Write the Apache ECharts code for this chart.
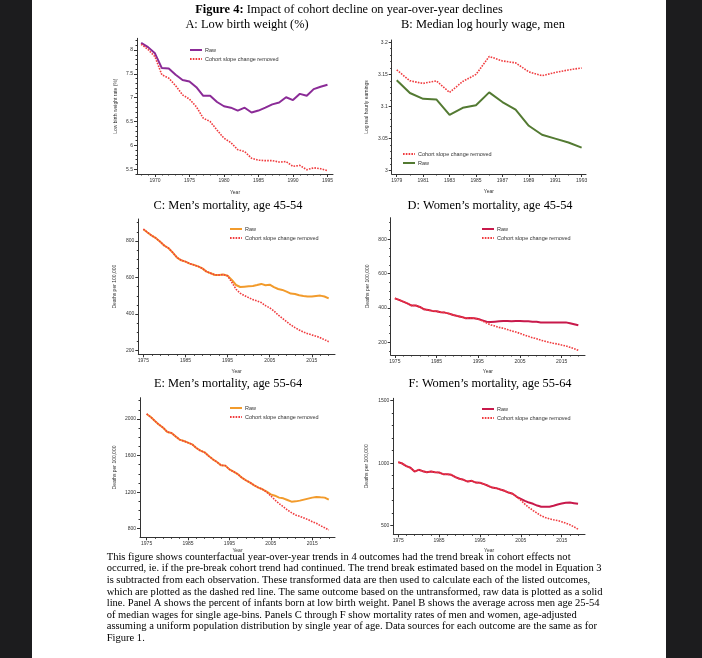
<!DOCTYPE html>
<html>
<head>
<meta charset="utf-8">
<script src="https://cdn.jsdelivr.net/npm/echarts@6/dist/echarts.min.js"></script>
<style>
html, body { margin: 0; padding: 0; background: #fff; }
#chart { width: 702px; height: 658px; }
</style>
</head>
<body>
<div id="chart"></div>
<script>
// panel A: low birth weight (%)
const yearsA = [1968, 1969, 1970, 1971, 1972, 1973, 1974, 1975, 1976, 1977, 1978, 1979, 1980, 1981,
  1982, 1983, 1984, 1985, 1986, 1987, 1988, 1989, 1990, 1991, 1992, 1993, 1994, 1995]
const rawA = [8.15, 8.06, 7.93, 7.62, 7.61, 7.48, 7.37, 7.34, 7.22, 7.04, 7.04, 6.91, 6.82, 6.79,
  6.73, 6.79, 6.69, 6.73, 6.79, 6.86, 6.90, 7.01, 6.95, 7.08, 7.04, 7.18, 7.23, 7.27]
const cohortA = [8.12, 8.01, 7.86, 7.48, 7.41, 7.25, 7.06, 6.97, 6.81, 6.57, 6.50, 6.32, 6.15, 6.06,
  5.91, 5.87, 5.73, 5.69, 5.68, 5.68, 5.65, 5.66, 5.56, 5.58, 5.49, 5.53, 5.51, 5.47]

// panel B: median log hourly wage, men
const yearsB = [1979, 1980, 1981, 1982, 1983, 1984, 1985, 1986, 1987, 1988, 1989, 1990, 1991, 1992, 1993]
const rawB = [3.141, 3.121, 3.112, 3.111, 3.087, 3.098, 3.102, 3.122, 3.107, 3.095, 3.070, 3.056, 3.050, 3.044, 3.036]
const cohortB = [3.157, 3.140, 3.136, 3.140, 3.122, 3.139, 3.150, 3.178, 3.171, 3.168, 3.154, 3.148, 3.153, 3.157, 3.160]

// panels C-F: mortality, deaths per 100,000
const yearsMort = [1975, 1976, 1977, 1978, 1979, 1980, 1981, 1982, 1983, 1984, 1985, 1986, 1987, 1988, 1989,
  1990, 1991, 1992, 1993, 1994, 1995, 1996, 1997, 1998, 1999, 2000, 2001, 2002, 2003, 2004,
  2005, 2006, 2007, 2008, 2009, 2010, 2011, 2012, 2013, 2014, 2015, 2016, 2017, 2018, 2019]
const rawC = [864, 846, 829, 815, 796, 774, 760, 736, 709, 694, 687, 676, 669, 661, 650,
  632, 623, 614, 614, 616, 610, 587, 559, 548, 550, 552, 554, 559, 565, 558,
  561, 547, 537, 532, 523, 512, 510, 503, 499, 496, 496, 499, 501, 496, 486]
const cohortC = [864, 846, 829, 815, 796, 774, 760, 736, 709, 694, 687, 676, 669, 661, 650,
  632, 623, 614, 614, 616, 609, 574, 536, 514, 501, 490, 479, 472, 463, 446,
  434, 417, 395, 377, 359, 341, 326, 313, 302, 293, 286, 279, 271, 260, 249]
const rawD = [456, 447, 437, 427, 414, 414, 406, 392, 388, 383, 381, 375, 373, 367, 359,
  353, 348, 340, 342, 340, 336, 328, 320, 318, 320, 322, 324, 324, 322, 324,
  324, 322, 322, 320, 320, 316, 315, 315, 316, 315, 316, 316, 311, 305, 299]
const cohortD = [456, 447, 437, 427, 414, 414, 406, 392, 388, 383, 381, 375, 373, 367, 359,
  353, 348, 340, 342, 340, 336, 324, 313, 301, 295, 287, 282, 274, 266, 260,
  252, 243, 235, 227, 221, 212, 206, 200, 194, 190, 184, 179, 171, 163, 153]
const rawE = [2055, 2022, 1978, 1938, 1905, 1858, 1847, 1810, 1774, 1759, 1741, 1723, 1683, 1654, 1635,
  1595, 1559, 1530, 1493, 1490, 1449, 1424, 1398, 1358, 1329, 1304, 1274, 1249, 1231, 1205,
  1176, 1161, 1140, 1132, 1114, 1096, 1099, 1107, 1118, 1129, 1140, 1147, 1143, 1140, 1118]
const cohortE = [2055, 2022, 1978, 1938, 1905, 1858, 1847, 1810, 1774, 1759, 1741, 1723, 1683, 1654, 1635,
  1595, 1559, 1530, 1493, 1490, 1449, 1424, 1398, 1358, 1329, 1304, 1274, 1249, 1231, 1200,
  1158, 1114, 1074, 1041, 1005, 975, 950, 935, 917, 899, 877, 859, 833, 811, 786]
const rawF = [1008, 997, 976, 963, 933, 947, 936, 928, 933, 928, 925, 912, 912, 907, 888,
  875, 867, 853, 859, 845, 843, 832, 819, 805, 800, 789, 779, 765, 755, 731,
  715, 699, 685, 675, 661, 651, 651, 651, 659, 669, 677, 683, 685, 680, 675]
const cohortF = [1008, 997, 976, 963, 933, 947, 936, 928, 933, 928, 925, 912, 912, 907, 888,
  875, 867, 853, 859, 845, 843, 832, 819, 805, 800, 789, 779, 765, 755, 731,
  704, 672, 645, 621, 600, 579, 565, 555, 547, 541, 531, 520, 507, 491, 472]

// tick labels
const xTicksA = [1970, 1975, 1980, 1985, 1990, 1995]
const yTicksA = [5.5, 6, 6.5, 7, 7.5, 8]
const xTicksB = [1979, 1981, 1983, 1985, 1987, 1989, 1991, 1993]
const yTicksB = [3, 3.05, 3.1, 3.15, 3.2]
const xTicksMort = [1975, 1985, 1995, 2005, 2015]
const yTicksC = [200, 400, 600, 800]
const yTicksD = [200, 400, 600, 800]
const yTicksE = [800, 1200, 1600, 2000]
const yTicksF = [500, 1000, 1500]

const captionLines = [
  'This figure shows counterfactual year-over-year trends in 4 outcomes had the trend break in cohort effects not',
  'occurred, ie. if the pre-break cohort trend had continued. The trend break estimated based on the model in Equation 3',
  'is subtracted from each observation. These transformed data are then used to calculate each of the listed outcomes,',
  'which are plotted as the dashed red line. The same outcome based on the untransformed, raw data is plotted as a solid',
  'line. Panel A shows the percent of infants born at low birth weight. Panel B shows the average across men age 25-54',
  'of median wages for single age-bins. Panels C through F show mortality rates of men and women, age-adjusted',
  'assuming a uniform population distribution by single year of age. Data sources for each outcome are the same as for',
  'Figure 1.'
]

const RED = '#f03c3f'
const SANS = 'Liberation Sans'
const SERIF = 'Liberation Serif'
const INK = '#333'

const panels = [
  { key: 'A', title: 'A: Low birth weight (%)', tx: 247, ty: 25,
    grid: { left: 137, top: 38.3, width: 196, height: 135.7 },
    xMin: 1967.4, xMax: 1995.8, yMin: 5.40, yMax: 8.245,
    years: yearsA, raw: rawA, cohort: cohortA, color: '#8b2b97',
    xTicks: xTicksA, yTicks: yTicksA, xStep: 1, yStep: 0.1,
    yName: 'Low birth weight rate (%)', yGap: 19, xGap: 16,
    legend: { left: 189, top: 47 }, rawFirst: true },
  { key: 'B', title: 'B: Median log hourly wage, men', tx: 483, ty: 25,
    grid: { left: 391.7, top: 40, width: 194.3, height: 134 },
    xMin: 1978.62, xMax: 1993.33, yMin: 2.9949, yMax: 3.2036,
    years: yearsB, raw: rawB, cohort: cohortB, color: '#537a32',
    xTicks: xTicksB, yTicks: yTicksB, xStep: 1, yStep: 0.01,
    yName: 'Log real hourly earnings', yGap: 23, xGap: 15,
    legend: { left: 402, top: 151 }, rawFirst: false },
  { key: 'C', title: 'C: Men\u2019s mortality, age 45-54', tx: 228, ty: 206,
    grid: { left: 138.3, top: 219, width: 196.7, height: 135.3 },
    xMin: 1973.8, xMax: 2020.5, yMin: 180, yMax: 920,
    years: yearsMort, raw: rawC, cohort: cohortC, color: '#f29b2c',
    xTicks: xTicksMort, yTicks: yTicksC, xStep: 2, yStep: 50,
    yName: 'Deaths per 100,000', yGap: 21, xGap: 15,
    legend: { left: 229, top: 226 }, rawFirst: true },
  { key: 'D', title: 'D: Women\u2019s mortality, age 45-54', tx: 490, ty: 206,
    grid: { left: 390.7, top: 217.7, width: 194.3, height: 137.3 },
    xMin: 1974, xMax: 2020.6, yMin: 126, yMax: 926,
    years: yearsMort, raw: rawD, cohort: cohortD, color: '#c8194b',
    xTicks: xTicksMort, yTicks: yTicksD, xStep: 2, yStep: 50,
    yName: 'Deaths per 100,000', yGap: 21, xGap: 14,
    legend: { left: 481, top: 226 }, rawFirst: true },
  { key: 'E', title: 'E: Men\u2019s mortality, age 55-64', tx: 228, ty: 384,
    grid: { left: 140, top: 397.7, width: 195, height: 139.6 },
    xMin: 1973.4, xMax: 2020.5, yMin: 706, yMax: 2233,
    years: yearsMort, raw: rawE, cohort: cohortE, color: '#f29b2c',
    xTicks: xTicksMort, yTicks: yTicksE, xStep: 2, yStep: 100,
    yName: 'Deaths per 100,000', yGap: 23, xGap: 11,
    legend: { left: 229, top: 405 }, rawFirst: true },
  { key: 'F', title: 'F: Women\u2019s mortality, age 55-64', tx: 490, ty: 384,
    grid: { left: 393.3, top: 398.3, width: 191.7, height: 136 },
    xMin: 1973.8, xMax: 2020.7, yMin: 431, yMax: 1519,
    years: yearsMort, raw: rawF, cohort: cohortF, color: '#c8194b',
    xTicks: xTicksMort, yTicks: yTicksF, xStep: 2, yStep: 100,
    yName: 'Deaths per 100,000', yGap: 24, xGap: 14,
    legend: { left: 481, top: 406 }, rawFirst: true }
]

// minor tick positions between the labelled ticks
function minorTicks(first, step, lo, hi) {
  const out = []
  const n0 = Math.ceil((lo - first) / step - 1e-9)
  const n1 = Math.floor((hi - first) / step + 1e-9)
  for (let n = n0; n <= n1; n++) out.push(Math.round((first + n * step) * 1000) / 1000)
  return out
}

const grid = [], xAxis = [], yAxis = [], series = [], legend = []
const graphic = [
  { type: 'rect', shape: { x: 0, y: 0, width: 32, height: 658 }, style: { fill: '#1c1c1e' } },
  { type: 'rect', shape: { x: 666, y: 0, width: 36, height: 658 }, style: { fill: '#1c1c1e' } },
  { type: 'text', x: 349, y: 10,
    style: { text: '{b|Figure 4:} Impact of cohort decline on year-over-year declines',
      font: '12.4px "Liberation Serif"', fill: '#000', align: 'center', verticalAlign: 'middle',
      rich: { b: { fontWeight: 'bold', fontSize: 12.4, fontFamily: SERIF } } } }
]

panels.forEach((p, i) => {
  grid.push(Object.assign({ containLabel: false }, p.grid))
  const axisCommon = { type: 'value', gridIndex: i, splitLine: { show: false } }
  xAxis.push(Object.assign({}, axisCommon, {
    min: p.xMin, max: p.xMax, position: 'bottom',
    name: 'Year', nameLocation: 'middle', nameGap: p.xGap,
    nameTextStyle: { fontSize: 5, color: INK, fontFamily: SANS },
    axisLine: { onZero: false, lineStyle: { color: INK, width: 1 } },
    axisTick: { customValues: p.xTicks, length: 3, lineStyle: { color: INK } },
    axisLabel: { customValues: p.xTicks, fontSize: 5, color: INK, fontFamily: SANS, margin: 4,
      formatter: v => String(v) }
  }))
  xAxis.push(Object.assign({}, axisCommon, {
    min: p.xMin, max: p.xMax, position: 'bottom',
    axisLine: { show: false, onZero: false },
    axisTick: { customValues: minorTicks(p.xTicks[0], p.xStep, p.xMin, p.xMax), length: 1.5,
      lineStyle: { color: INK } },
    axisLabel: { show: false }
  }))
  yAxis.push(Object.assign({}, axisCommon, {
    min: p.yMin, max: p.yMax, position: 'left',
    name: p.yName, nameLocation: 'middle', nameGap: p.yGap,
    nameTextStyle: { fontSize: 5, color: INK, fontFamily: SANS },
    axisLine: { show: true, onZero: false, lineStyle: { color: INK, width: 1 } },
    axisTick: { show: true, customValues: p.yTicks, length: 3, lineStyle: { color: INK } },
    axisLabel: { customValues: p.yTicks, fontSize: 5, color: INK, fontFamily: SANS, margin: 4,
      formatter: v => String(v) }
  }))
  yAxis.push(Object.assign({}, axisCommon, {
    min: p.yMin, max: p.yMax, position: 'left',
    axisLine: { show: false, onZero: false },
    axisTick: { show: true, customValues: minorTicks(p.yTicks[0], p.yStep, p.yMin, p.yMax), length: 1.5,
      lineStyle: { color: INK } },
    axisLabel: { show: false }
  }))

  const rawName = p.key + 'raw'
  const cohName = p.key + 'cohort'
  series.push({
    name: rawName, type: 'line', xAxisIndex: 2 * i, yAxisIndex: 2 * i,
    data: p.years.map((yr, k) => [yr, p.raw[k]]),
    symbol: 'none', z: 2,
    lineStyle: { color: p.color, width: 2 }, itemStyle: { color: p.color }
  })
  series.push({
    name: cohName, type: 'line', xAxisIndex: 2 * i, yAxisIndex: 2 * i,
    data: p.years.map((yr, k) => [yr, p.cohort[k]]),
    symbol: 'none', z: 3,
    lineStyle: { color: RED, width: 1.6, type: [1.6, 1.2] }, itemStyle: { color: RED }
  })

  legend.push({
    data: p.rawFirst ? [rawName, cohName] : [cohName, rawName],
    left: p.legend.left, top: p.legend.top, orient: 'vertical', padding: 0,
    itemWidth: 12, itemHeight: 5, itemGap: 3, selectedMode: false,
    itemStyle: { opacity: 0 },
    textStyle: { fontSize: 5.5, color: INK, fontFamily: SANS, padding: [0, 0, 0, -2] },
    formatter: n => n.endsWith('raw') ? 'Raw' : 'Cohort slope change removed'
  })

  graphic.push({ type: 'text', x: p.tx, y: p.ty,
    style: { text: p.title, font: '12.4px "Liberation Serif"', fill: '#000',
      align: 'center', verticalAlign: 'middle' } })
})

captionLines.forEach((line, k) => {
  graphic.push({ type: 'text', x: 106.7, y: 557 + k * 11.6,
    style: { text: line, font: '10.55px "Liberation Serif"', fill: '#000',
      align: 'left', verticalAlign: 'middle' } })
})

const chart = echarts.init(document.getElementById('chart'))
chart.setOption({
  backgroundColor: '#fff',
  animation: false,
  grid, xAxis, yAxis, series, legend, graphic
})
</script>
</body>
</html>
